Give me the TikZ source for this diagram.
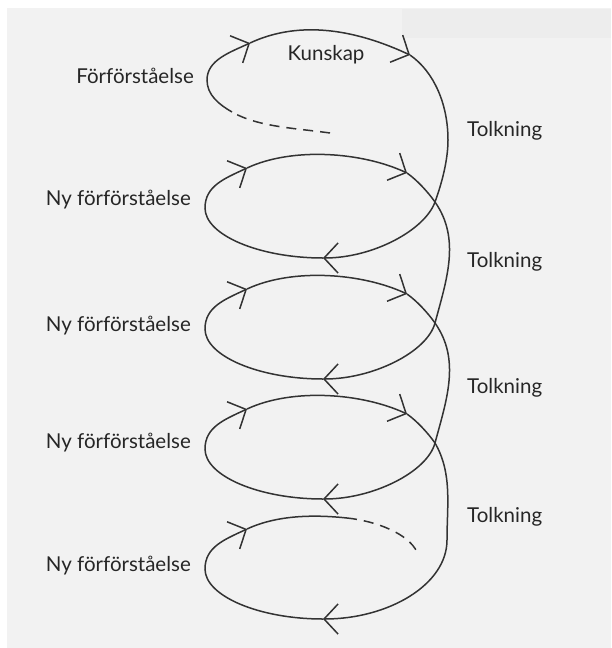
\documentclass[tikz,border=0pt]{standalone}
\usepackage{fontspec}
\setmainfont{Lato}
\usetikzlibrary{arrows.meta}

\begin{document}
\begin{tikzpicture}[x=1pt,y=1pt,
  spiral/.style={draw=black!80,line width=1.5pt},
  arrowed/.style={-{Straight Barb[length=14pt,width=30pt]}},
  dashes/.style={dash pattern=on 10pt off 7pt},
  word/.style={font=\fontsize{20.5}{24}\selectfont,text=black!85,inner sep=0pt}]
\useasboundingbox (0,0) rectangle (611,-648);
\fill[white] (0,0) rectangle (611,-648);
\fill[black!5] (7,-8) rectangle (611,-648);
\fill[black!7] (402,-9) rectangle (611,-38);

\node[word,anchor=east] (pre) at (194,-76) {Förförståelse};
\node[word] (kunskap) at (326,-55) {Kunskap};
\foreach \i/\y in {2/200,3/326,4/443,5/566}
  \node[word,anchor=east] (ny\i) at (191,-\y) {Ny förförståelse};
\foreach \i/\y in {1/131,2/262,3/388,4/517}
  \node[word,anchor=west] (tolk\i) at (467,-\y) {Tolkning};

\coordinate (S) at (330,-133);
\coordinate (P1) at (232,-112);
\coordinate (L1) at (207,-80);
\coordinate (A1) at (250,-43);
\coordinate (B1) at (410,-55);
\coordinate (R1) at (448,-140);
\foreach \k/\T in {2/156,3/277,4/397,5/517} {
  \coordinate (A\k) at (247,{-\T-12});
  \coordinate (B\k) at (407,{-\T-17});
  \coordinate (C\k) at (435,{-\T-46});
  \coordinate (D\k) at (323,{-\T-102});
  \coordinate (L\k) at (205,{-\T-52});
}
\coordinate (R5) at (447,-540);
\coordinate (E5) at (347,-518);
\coordinate (F5) at (417,-552);

\draw[spiral,dashes] (S) .. controls +(172:35) and +(-30:30) .. (P1);
\draw[spiral,arrowed] (P1) .. controls +(150:15) and +(-90:15) .. (L1)
  .. controls +(90:20) and +(205:22) .. (A1);
\draw[spiral,arrowed] (A1) .. controls +(25:57) and +(155:57) .. (B1);
\draw[spiral,arrowed] (B1) .. controls +(-35:30) and +(90:35) .. (R1)
  .. controls +(-90:20) and +(70:20) .. (C2)
  .. controls +(-110:30) and +(0:50) .. (D2);

\foreach \k in {2,3,4,5} {
  \draw[spiral,arrowed] (D\k) .. controls +(180:64) and +(-90:27) .. (L\k)
    .. controls +(90:22) and +(205:25) .. (A\k);
}
\foreach \k in {2,3,4}
  \draw[spiral,arrowed] (A\k) .. controls +(25:50) and +(155:50) .. (B\k);
\foreach \k/\n in {2/3,3/4}
  \draw[spiral,arrowed] (B\k) .. controls +(-35:12) and +(125:12) .. (C\k)
    .. controls +(-55:45) and +(75:45) .. (C\n)
    .. controls +(-105:30) and +(0:50) .. (D\n);
\draw[spiral,arrowed] (B4) .. controls +(-35:12) and +(125:12) .. (C4)
  .. controls +(-60:35) and +(90:35) .. (R5)
  .. controls +(-90:45) and +(0:65) .. (D5);

\draw[spiral] (A5) .. controls +(25:35) and +(174:30) .. (E5);
\draw[spiral,dashes] (E5) .. controls +(-6:30) and +(115:20) .. (F5);
\end{tikzpicture}
\end{document}
